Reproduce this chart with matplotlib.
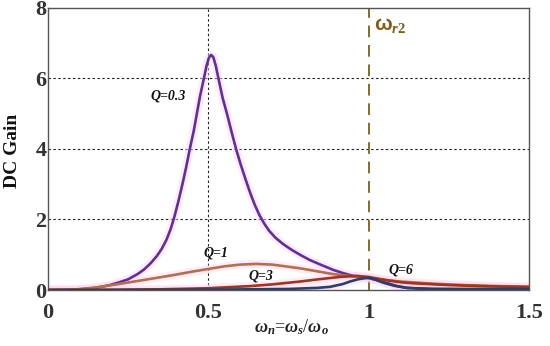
import matplotlib
matplotlib.use("Agg")
import matplotlib.pyplot as plt

# ---- data ----
x_q03 = [0.0, 0.05, 0.10, 0.13, 0.16, 0.19, 0.22, 0.25, 0.28, 0.30, 0.32, 0.34, 0.355, 0.37, 0.383, 0.395,
         0.407, 0.42, 0.432, 0.443, 0.455, 0.465, 0.475, 0.487, 0.495, 0.502, 0.509, 0.516, 0.524, 0.532,
         0.545, 0.56, 0.573, 0.587, 0.60, 0.615, 0.63, 0.645, 0.66, 0.675, 0.69, 0.71, 0.734, 0.76, 0.79,
         0.817, 0.85, 0.89, 0.92, 0.952, 0.98, 1.0, 1.03, 1.057, 1.09, 1.12, 1.16, 1.2, 1.3, 1.5]
y_q03 = [0.0, 0.005, 0.02, 0.04, 0.08, 0.13, 0.21, 0.30, 0.45, 0.58, 0.75, 0.96, 1.16, 1.42, 1.72, 2.08,
         2.5, 3.0, 3.5, 4.0, 4.5, 5.0, 5.5, 6.0, 6.35, 6.57, 6.66, 6.6, 6.35, 6.0,
         5.45, 4.95, 4.48, 4.0, 3.6, 3.18, 2.78, 2.42, 2.12, 1.88, 1.68, 1.48, 1.30, 1.14, 0.98,
         0.85, 0.72, 0.57, 0.48, 0.40, 0.36, 0.34, 0.27, 0.20, 0.11, 0.06, 0.04, 0.03, 0.02, 0.02]

x_q1 = [0.0, 0.08, 0.15, 0.235, 0.31, 0.39, 0.45, 0.496, 0.55, 0.60, 0.65, 0.70, 0.75, 0.79, 0.84, 0.89,
        0.95, 1.0, 1.05, 1.1, 1.2, 1.3, 1.41, 1.5]
y_q1 = [0.0, 0.01, 0.07, 0.19, 0.30, 0.42, 0.52, 0.59, 0.67, 0.72, 0.74, 0.72, 0.66, 0.61, 0.53, 0.45,
        0.39, 0.34, 0.29, 0.24, 0.18, 0.14, 0.11, 0.10]

x_q3 = [0.0, 0.2, 0.35, 0.5, 0.63, 0.70, 0.786, 0.85, 0.91, 0.963, 1.0, 1.03, 1.06, 1.1, 1.14, 1.25, 1.35, 1.5]
y_q3 = [0.0, 0.005, 0.02, 0.05, 0.11, 0.16, 0.24, 0.31, 0.37, 0.40, 0.37, 0.32, 0.27, 0.22, 0.19, 0.14, 0.11, 0.08]

x_q6 = [0.0, 0.5, 0.75, 0.84, 0.88, 0.92, 0.942, 0.97, 1.0, 1.02, 1.045, 1.08, 1.12, 1.2, 1.5]
y_q6 = [0.0, 0.01, 0.03, 0.06, 0.09, 0.17, 0.24, 0.31, 0.35, 0.30, 0.21, 0.12, 0.06, 0.03, 0.03]

x_ticks = [0, 0.5, 1, 1.5]
x_tick_labels = ["0", "0.5", "1", "1.5"]
y_ticks = [0, 2, 4, 6, 8]
y_tick_labels = ["0", "2", "4", "6", "8"]

plt.rcParams['mathtext.fontset'] = 'custom'
plt.rcParams['mathtext.rm'] = 'Liberation Serif:bold'
plt.rcParams['mathtext.it'] = 'Liberation Serif:bold:italic'
plt.rcParams['mathtext.bf'] = 'Liberation Serif:bold'
plt.rcParams['mathtext.sf'] = 'Liberation Sans:bold'

fig = plt.figure(figsize=(5.5, 3.46), dpi=100)
ax = fig.add_axes([0.0867, 0.1618, 0.8751, 0.8162])
ax.set_xlim(0, 1.5)
ax.set_ylim(0, 8)

# grid
for yv in [2, 4, 6]:
    ax.axhline(yv, color='#222222', lw=0.8, ls=(0, (2.2, 2.2)), zorder=1)
ax.axvline(0.5, color='#222222', lw=0.8, ls=(0, (2.2, 2.2)), zorder=1)
ax.axvline(1.0, color='#8a6a1c', lw=1.4, ls=(0, (6, 4)), zorder=1)

glow = '#ffd6f0'
series = [(x_q03, y_q03, '#5f2ea0'), (x_q1, y_q1, '#b4704c'),
          (x_q3, y_q3, '#a3341c'), (x_q6, y_q6, '#2b3f6b')]
for xs, ys, c in series:
    ax.plot(xs, ys, color=glow, lw=6, alpha=0.45, solid_capstyle='butt', solid_joinstyle='round', zorder=2)
for xs, ys, c in series:
    ax.plot(xs, ys, color=c, lw=1.9, solid_joinstyle='round', zorder=3)

for s in ax.spines.values():
    s.set_color('#555555')
    s.set_linewidth(1.0)

ax.set_xticks(x_ticks)
ax.set_xticklabels(x_tick_labels)
ax.set_yticks(y_ticks)
ax.set_yticklabels(y_tick_labels)
ax.tick_params(length=0, labelsize=16, labelcolor='#333333')
ax.tick_params(axis='x', pad=9)
ax.tick_params(axis='y', pad=1)
for lab in ax.get_xticklabels() + ax.get_yticklabels():
    lab.set_fontfamily('Liberation Serif')
    lab.set_fontweight('bold')

fig.text(0.022, 0.565, 'DC Gain', rotation=90, ha='center', va='center',
         fontsize=14, fontweight='bold', family='Liberation Serif', color='#111111')
fig.text(0.53, 0.055, r'$\omega_n$=$\omega_s$/$\omega_o$', ha='center', va='center',
         fontsize=13, family='Liberation Serif', color='#222222')

lab_kw = dict(fontsize=10, fontweight='bold', style='italic', family='Liberation Serif',
              color='#111111', ha='center', va='center', zorder=5)
ax.text(0.375, 5.5, 'Q=0.3', **lab_kw)
ax.text(0.525, 1.05, 'Q=1', **lab_kw)
ax.text(0.665, 0.40, 'Q=3', **lab_kw)
ax.text(1.1, 0.58, 'Q=6', **lab_kw)

ax.text(1.018, 7.5, r'$\mathsf{\omega}_{\mathit{r2}}$', fontsize=15, color='#8a5a14',
        ha='left', va='center')

fig.savefig('out.png', dpi=100)
